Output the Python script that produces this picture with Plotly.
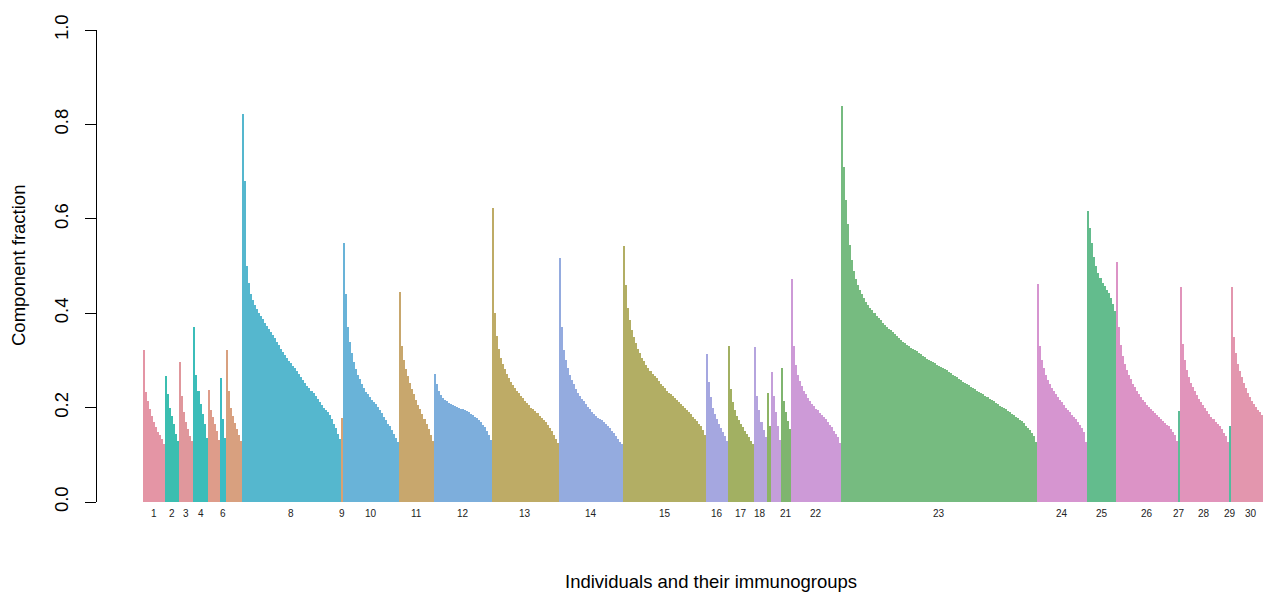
import plotly.graph_objects as go

# ---- data: component fraction per individual, grouped by immunogroup ----
g1 = [0.323, 0.234, 0.213, 0.197, 0.183, 0.170, 0.159, 0.148, 0.143, 0.134, 0.122]
g2 = [0.267, 0.228, 0.200, 0.182, 0.165, 0.145, 0.129]
g3 = [0.296, 0.225, 0.190, 0.170, 0.155, 0.140, 0.129]
g4 = [0.371, 0.270, 0.235, 0.207, 0.187, 0.166, 0.135]
g5 = [0.237, 0.195, 0.180, 0.166, 0.150, 0.132]
g6 = [0.263, 0.175, 0.135]
g7 = [0.321, 0.235, 0.200, 0.182, 0.168, 0.155, 0.143, 0.130]
g8 = [0.823, 0.680, 0.500, 0.465, 0.440, 0.428, 0.418, 0.408, 0.400, 0.394,
      0.388, 0.380, 0.373, 0.366, 0.360, 0.353, 0.347, 0.340, 0.332, 0.325,
      0.317, 0.311, 0.305, 0.299, 0.294, 0.288, 0.283, 0.277, 0.272, 0.265,
      0.258, 0.252, 0.246, 0.242, 0.236, 0.230, 0.225, 0.218, 0.212, 0.206,
      0.200, 0.195, 0.190, 0.185, 0.176, 0.166, 0.156, 0.144, 0.134]
g9 = [0.177]
g10 = [0.548, 0.440, 0.370, 0.340, 0.316, 0.296, 0.282, 0.270, 0.260, 0.250,
       0.242, 0.234, 0.228, 0.222, 0.217, 0.212, 0.207, 0.201, 0.195, 0.188,
       0.181, 0.174, 0.166, 0.160, 0.153, 0.145, 0.136, 0.127]
g11 = [0.445, 0.330, 0.300, 0.282, 0.266, 0.252, 0.240, 0.228, 0.216, 0.206,
       0.196, 0.186, 0.176, 0.166, 0.155, 0.143, 0.130]
g12 = [0.271, 0.250, 0.236, 0.226, 0.220, 0.216, 0.213, 0.210, 0.208, 0.206,
       0.204, 0.202, 0.200, 0.198, 0.196, 0.194, 0.192, 0.190, 0.187, 0.184,
       0.181, 0.177, 0.173, 0.169, 0.164, 0.158, 0.151, 0.143, 0.132]
g13 = [0.622, 0.400, 0.352, 0.325, 0.306, 0.292, 0.281, 0.271, 0.263, 0.255,
       0.248, 0.241, 0.235, 0.230, 0.225, 0.220, 0.215, 0.210, 0.205, 0.200,
       0.196, 0.192, 0.188, 0.183, 0.179, 0.174, 0.169, 0.163, 0.157, 0.150,
       0.142, 0.134, 0.124]
g14 = [0.517, 0.370, 0.322, 0.300, 0.283, 0.270, 0.258, 0.249, 0.240, 0.232,
       0.225, 0.219, 0.213, 0.207, 0.201, 0.196, 0.191, 0.186, 0.182, 0.179,
       0.176, 0.173, 0.169, 0.165, 0.160, 0.156, 0.151, 0.146, 0.140, 0.134,
       0.127, 0.122]
g15 = [0.542, 0.460, 0.412, 0.385, 0.365, 0.350, 0.337, 0.325, 0.315, 0.306,
       0.298, 0.290, 0.283, 0.277, 0.272, 0.267, 0.262, 0.257, 0.251, 0.246,
       0.241, 0.236, 0.232, 0.228, 0.224, 0.220, 0.216, 0.211, 0.207, 0.203,
       0.199, 0.195, 0.190, 0.186, 0.181, 0.176, 0.171, 0.166, 0.160, 0.152,
       0.141]
g16 = [0.314, 0.255, 0.222, 0.200, 0.186, 0.175, 0.165, 0.156, 0.148, 0.139, 0.129]
g17 = [0.331, 0.240, 0.212, 0.195, 0.183, 0.173, 0.165, 0.158, 0.151, 0.144,
       0.137, 0.130, 0.122]
g18 = [0.329, 0.225, 0.195, 0.170, 0.152, 0.137]
g19 = [0.231, 0.160]
g20 = [0.276, 0.225, 0.190, 0.160, 0.132]
g21 = [0.283, 0.215, 0.190, 0.172, 0.155]
g22 = [0.472, 0.330, 0.290, 0.270, 0.256, 0.245, 0.236, 0.228, 0.221, 0.214,
       0.208, 0.203, 0.198, 0.194, 0.189, 0.185, 0.181, 0.176, 0.170, 0.164,
       0.158, 0.151, 0.145, 0.137, 0.125]
g23 = [0.838, 0.710, 0.640, 0.590, 0.545, 0.512, 0.490, 0.472, 0.460, 0.450,
       0.440, 0.432, 0.424, 0.418, 0.412, 0.406, 0.400, 0.395, 0.390, 0.385,
       0.380, 0.375, 0.371, 0.367, 0.364, 0.360, 0.356, 0.352, 0.348, 0.344,
       0.340, 0.336, 0.333, 0.330, 0.327, 0.324, 0.322, 0.319, 0.316, 0.313,
       0.310, 0.307, 0.304, 0.301, 0.299, 0.296, 0.294, 0.291, 0.289, 0.287,
       0.284, 0.282, 0.279, 0.276, 0.273, 0.270, 0.267, 0.264, 0.261, 0.258,
       0.255, 0.252, 0.249, 0.247, 0.244, 0.242, 0.239, 0.236, 0.233,
       0.231, 0.228, 0.225, 0.222, 0.219, 0.216, 0.213, 0.210, 0.207, 0.204,
       0.201, 0.199, 0.196, 0.193, 0.190, 0.187, 0.184, 0.181, 0.178, 0.174,
       0.171, 0.167, 0.162, 0.157, 0.152, 0.147, 0.140, 0.128]
g24 = [0.462, 0.330, 0.300, 0.283, 0.270, 0.259, 0.250, 0.242, 0.235, 0.229,
       0.223, 0.217, 0.211, 0.205, 0.200, 0.195, 0.190, 0.185, 0.180, 0.175,
       0.170, 0.164, 0.157, 0.148, 0.128]
g25 = [0.616, 0.580, 0.548, 0.520, 0.500, 0.485, 0.474, 0.465, 0.457, 0.450,
       0.442, 0.432, 0.420, 0.405]
g26 = [0.508, 0.370, 0.332, 0.310, 0.293, 0.280, 0.270, 0.260, 0.251, 0.243,
       0.236, 0.229, 0.223, 0.217, 0.211, 0.206, 0.201, 0.197, 0.192, 0.188,
       0.184, 0.180, 0.176, 0.172, 0.168, 0.164, 0.160, 0.155, 0.149, 0.141,
       0.130]
g27 = [0.193]
g28 = [0.456, 0.335, 0.300, 0.280, 0.265, 0.253, 0.243, 0.235, 0.227, 0.219,
       0.212, 0.205, 0.199, 0.192, 0.186, 0.180, 0.175, 0.170, 0.165, 0.160,
       0.154, 0.147, 0.140, 0.128]
g29 = [0.160]
g30 = [0.456, 0.350, 0.315, 0.293, 0.277, 0.264, 0.252, 0.241, 0.231, 0.222,
       0.214, 0.207, 0.201, 0.195, 0.190, 0.185, 0.180, 0.175, 0.169, 0.163]

groups = [g1, g2, g3, g4, g5, g6, g7, g8, g9, g10, g11, g12, g13, g14, g15,
          g16, g17, g18, g19, g20, g21, g22, g23, g24, g25, g26, g27, g28, g29, g30]
group_names = [str(i) for i in range(1, 31)]
# labels that R dropped because of overlap are left empty
group_labels = ["1", "2", "3", "4", "", "6", "", "8", "9", "10", "11", "12", "13",
                "14", "15", "16", "17", "18", "", "", "21", "22", "23", "24", "25",
                "26", "27", "28", "29", "30"]
group_colors = ["#E495A5", "#3BBEB0", "#E0979C", "#3BBDB9", "#DE9C8A", "#3CBCC3",
                "#D8A07F", "#55B7CE", "#D9A172", "#69B3D8", "#C8A76D", "#7DAEDC",
                "#BEAB66", "#94ABDF", "#B2AE64", "#A5A7E0", "#A2B062", "#B5A4DE",
                "#8DB465", "#C49EDA", "#7FB56F", "#CD9AD7", "#76BB80", "#D695D0",
                "#63BC8D", "#DC93C6", "#5DBC96", "#E194BB", "#52BC9E", "#E396AE"]
y_ticks = [0.0, 0.2, 0.4, 0.6, 0.8, 1.0]
y_title = "Component fraction"
x_title = "Individuals and their immunogroups"

FONT = "Liberation Sans, Arial, Helvetica, sans-serif"

fig = go.Figure()
start = 0
for vals, name, lab, col in zip(groups, group_names, group_labels, group_colors):
    xs = list(range(start, start + len(vals)))
    fig.add_trace(go.Bar(x=xs, y=vals, width=1.0, name=name,
                         marker=dict(color=col, line=dict(width=0)),
                         showlegend=False, hoverinfo="skip"))
    if lab:
        fig.add_annotation(x=start + (len(vals) - 1) / 2, y=0, xref="x", yref="y",
                           text=lab, showarrow=False, yanchor="middle", yshift=-11,
                           font=dict(family=FONT, size=10, color="#222222"))
    start += len(vals)
n_total = start

# the page body adds an 8px margin, so the figure is made 8px smaller
OFF = 8
W, H = 1271 - OFF, 594 - OFF
ml, mr, mt, mb = 97 - OFF, 0, 30 - OFF, 92
plot_w = W - ml - mr
plot_h = H - mt - mb
lead = 22.8  # empty space (in bar units) between y axis line and first bar

fig.add_annotation(xref="paper", yref="paper", x=(18 - OFF - ml) / plot_w, y=0.5,
                   text=y_title, textangle=-90, showarrow=False,
                   xanchor="center", yanchor="middle",
                   font=dict(family=FONT, size=18.5, color="black"))
fig.add_annotation(xref="paper", yref="paper", x=(711 - OFF - ml) / plot_w,
                   y=-(581 - OFF - (H - mb)) / plot_h,
                   text=x_title, showarrow=False, xanchor="center", yanchor="middle",
                   font=dict(family=FONT, size=18.5, color="black"))

fig.update_layout(
    width=W, height=H,
    margin=dict(l=ml, r=mr, t=mt, b=mb, pad=0, autoexpand=False),
    paper_bgcolor="white", plot_bgcolor="white",
    bargap=0, barmode="overlay",
    xaxis=dict(range=[-0.5 - lead, n_total - 0.5], showgrid=False, zeroline=False,
               showline=False, showticklabels=False, ticks=""),
    yaxis=dict(range=[0, 1], tickvals=y_ticks,
               ticktext=[f"{v:.1f}" for v in y_ticks],
               showgrid=False, zeroline=False, showline=True, linecolor="black",
               linewidth=1, ticks="outside", ticklen=11, tickwidth=1,
               tickcolor="black", tickangle=-90, ticklabelstandoff=10,
               automargin=False,
               tickfont=dict(family=FONT, size=18.5, color="black")),
)

fig.write_html("out.html")
